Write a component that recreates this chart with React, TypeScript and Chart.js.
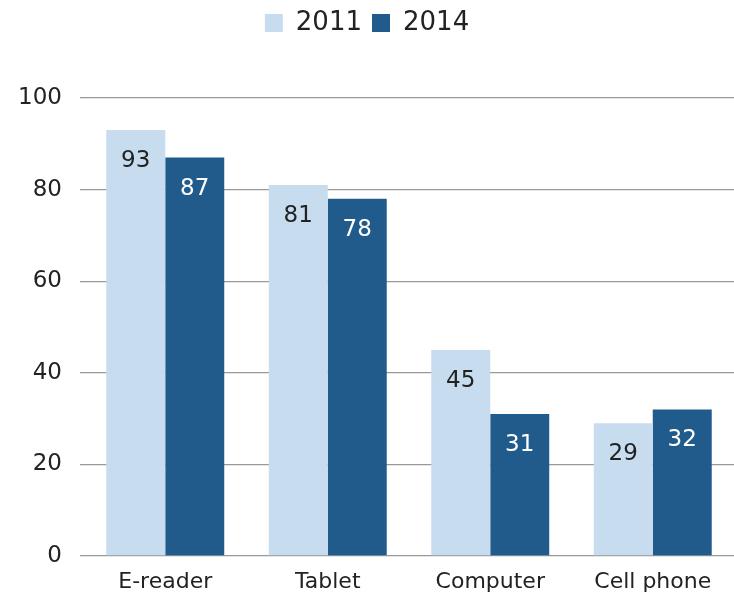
import { useEffect, useRef } from "react";
import { Chart, registerables } from "chart.js";

Chart.register(...registerables);

const categories = ["E-reader", "Tablet", "Computer", "Cell phone"];
const values2011 = [93, 81, 45, 29];
const values2014 = [87, 78, 31, 32];
const yTicks = [0, 20, 40, 60, 80, 100];

const LIGHT = "#c8dcef";
const DARK = "#215b8c";
const FONT = "'DejaVu Sans', 'Liberation Sans', sans-serif";

// extra space under the legend so the plot starts lower
const legendSpacer = {
  id: "legendSpacer",
  beforeInit(chart: any) {
    const origFit = chart.legend.fit;
    chart.legend.fit = function () {
      origFit.bind(this)();
      this.height += 52;
    };
  },
};

// values written inside the top of each bar
const barLabels = {
  id: "barLabels",
  afterDatasetsDraw(chart: any) {
    const { ctx } = chart;
    ctx.save();
    ctx.font = `23px ${FONT}`;
    ctx.textAlign = "center";
    ctx.textBaseline = "middle";
    chart.data.datasets.forEach((ds: any, i: number) => {
      const meta = chart.getDatasetMeta(i);
      ctx.fillStyle = i === 0 ? "#222" : "#fff";
      meta.data.forEach((bar: any, j: number) => {
        ctx.fillText(String(ds.data[j]), bar.x, bar.y + 31);
      });
    });
    ctx.restore();
  },
};

export default function App() {
  const canvasRef = useRef<HTMLCanvasElement>(null);

  useEffect(() => {
    if (!canvasRef.current) return;
    const chart = new Chart(canvasRef.current, {
      type: "bar",
      data: {
        labels: categories,
        datasets: [
          { label: "2011", data: values2011, backgroundColor: LIGHT },
          { label: "2014", data: values2014, backgroundColor: DARK },
        ],
      },
      options: {
        animation: false,
        responsive: true,
        maintainAspectRatio: false,
        layout: { padding: 0 },
        datasets: { bar: { categoryPercentage: 0.726, barPercentage: 1 } },
        plugins: {
          legend: {
            position: "top",
            labels: {
              boxWidth: 18,
              boxHeight: 18,
              padding: 10,
              color: "#222",
              font: { family: FONT, size: 26 },
            },
          },
          tooltip: { enabled: false },
        },
        scales: {
          x: {
            afterFit(scale: any) {
              scale.height = 47;
            },
            grid: { display: false, drawTicks: false },
            border: { display: false },
            ticks: { color: "#222", padding: 13, font: { family: FONT, size: 22 } },
          },
          y: {
            min: 0,
            max: 100,
            afterFit(scale: any) {
              scale.width = 84;
            },
            afterBuildTicks(scale: any) {
              scale.ticks = yTicks.map((v) => ({ value: v }));
            },
            grid: { color: "#999", lineWidth: 1.3, tickLength: 4, drawTicks: true },
            border: { display: false },
            ticks: { color: "#222", padding: 18, font: { family: FONT, size: 23 } },
          },
        },
      },
      plugins: [legendSpacer, barLabels],
    });
    return () => chart.destroy();
  }, []);

  return (
    <div style={{ position: "absolute", left: 0, top: 0, width: 734, height: 603, background: "#fff" }}>
      <canvas ref={canvasRef} />
    </div>
  );
}
